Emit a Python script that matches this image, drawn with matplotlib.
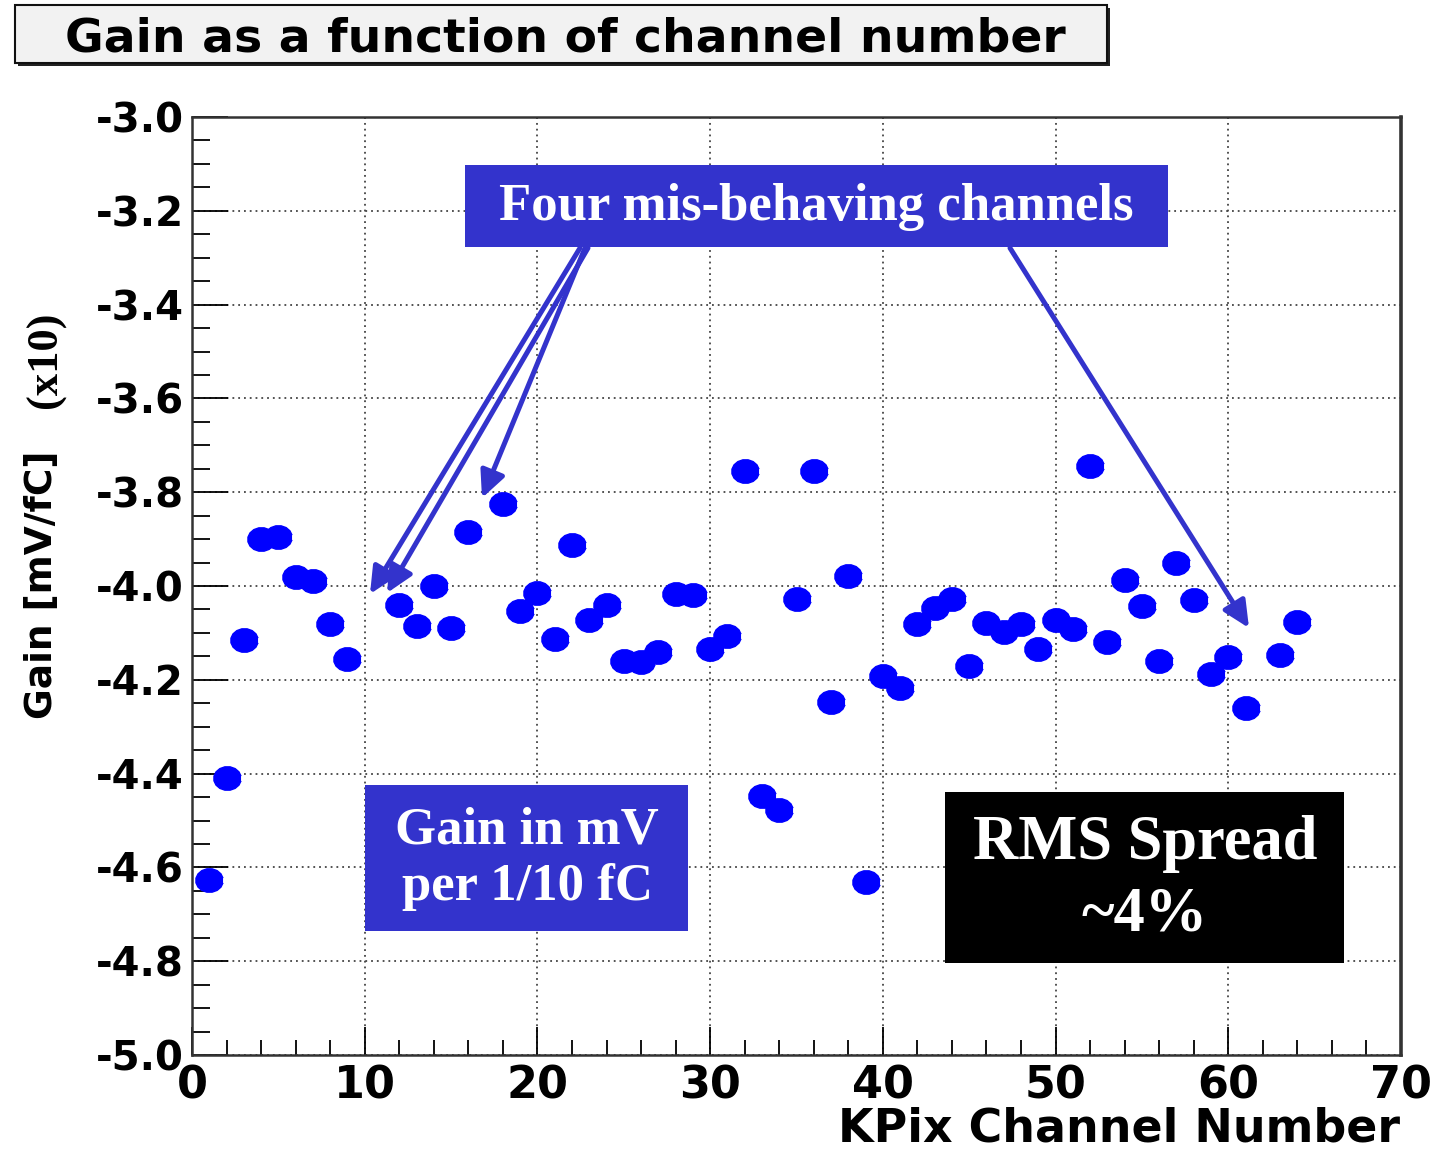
import numpy as np
import matplotlib
matplotlib.use('Agg')
import matplotlib.pyplot as plt
from matplotlib.patches import Rectangle, FancyArrowPatch
from matplotlib.ticker import MultipleLocator, FormatStrFormatter

plt.rcParams['font.family'] = ['DejaVu Sans']
plt.rcParams['axes.unicode_minus'] = False

# ---- data; NaN = mis-behaving channels ----
channels = np.arange(1, 65)
gain = [-4.627, -4.41, -4.115, -3.90, -3.895, -3.98, -3.99, -4.08, -4.155,
        np.nan, np.nan,
        -4.04, -4.085, -4.00, -4.09, -3.885,
        np.nan,
        -3.825, -4.053, -4.015, -4.113, -3.913, -4.073, -4.04, -4.16, -4.163,
        -4.14, -4.017, -4.02, -4.134, -4.107, -3.755, -4.448, -4.478, -4.028,
        -3.755, -4.247, -3.979, -4.631, -4.192, -4.217, -4.081, -4.047, -4.028,
        -4.171, -4.079, -4.098, -4.081, -4.134, -4.073, -4.092, -3.744, -4.119,
        -3.987, -4.042, -4.16, -3.951, -4.03, -4.188, -4.151, -4.26,
        np.nan,
        -4.147, -4.077]
gain = np.array(gain, dtype=float)

x_ticks = [0, 10, 20, 30, 40, 50, 60, 70]
y_ticks = [-5.0, -4.8, -4.6, -4.4, -4.2, -4.0, -3.8, -3.6, -3.4, -3.2, -3.0]

title = 'Gain as a function of channel number'
xlabel = 'KPix Channel Number'
ylabel = 'Gain [mV/fC]'
ylabel2 = '(x10)'
note_top = 'Four mis-behaving channels'
note_left = 'Gain in mV\nper 1/10 fC'
note_right = 'RMS Spread\n~4%'

# ---- figure geometry (image pixel helpers) ----
W, H = 1432, 1154
fig = plt.figure(figsize=(W / 100, H / 100), dpi=100)


def fx(x):
    return x / W


def fy(y):
    return 1 - y / H


ax = fig.add_axes([fx(192), fy(1055), fx(1401) - fx(192), fy(117) - fy(1055)])

BLUE = '#3333CC'

# slightly wide octagon-like marker
t = np.linspace(0, 2 * np.pi, 17)[:-1] + np.pi / 16
verts = np.column_stack([np.cos(t), 0.86 * np.sin(t)])
ax.plot(channels, gain, linestyle='none', marker=verts, markersize=19.5,
        color='#0000FF', mec='#0000FF', zorder=3)

ax.set_xlim(0, 70)
ax.set_ylim(-5.0, -3.0)
ax.set_xticks(x_ticks)
ax.set_yticks(y_ticks)
ax.xaxis.set_minor_locator(MultipleLocator(2))
ax.yaxis.set_minor_locator(MultipleLocator(0.05))
ax.yaxis.set_major_formatter(FormatStrFormatter('%.1f'))

ax.tick_params(axis='x', which='major', direction='in', length=20, width=1.3,
               labelsize=32, pad=7, top=False)
ax.tick_params(axis='x', which='minor', direction='in', length=11, width=1.3, top=False)
ax.tick_params(axis='y', which='major', direction='in', length=26, width=1.3,
               labelsize=29, pad=6, right=False)
ax.tick_params(axis='y', which='minor', direction='in', length=13, width=1.3, right=False)
for lbl in ax.get_xticklabels() + ax.get_yticklabels():
    lbl.set_fontweight('bold')

ax.grid(True, which='major', linestyle=(0, (1, 2.2)), color='#444444', lw=1.3)
ax.set_axisbelow(True)
for s in ax.spines.values():
    s.set_color('#333333')
    s.set_linewidth(1.8)
ax.spines['right'].set_linewidth(2.6)

# axis titles
fig.text(fx(1400), fy(1141), xlabel, ha='right', va='baseline', fontsize=33,
         fontweight='bold')
fig.text(fx(42), fy(585), ylabel, rotation=90, ha='center', va='center',
         fontsize=27, fontweight='bold')
fig.text(fx(46), fy(360), ylabel2, rotation=90, ha='center', va='center',
         fontsize=32, fontweight='bold', family='Liberation Serif')

# title box with shadow
fig.add_artist(Rectangle((fx(18), fy(66)), fx(1107) - fx(15), fy(5) - fy(63),
                         transform=fig.transFigure, fc='#222222', ec='none'))
fig.add_artist(Rectangle((fx(15), fy(63)), fx(1107) - fx(15), fy(5) - fy(63),
                         transform=fig.transFigure, fc='#F2F2F2', ec='#111111', lw=1.5))
fig.text(fx(565), fy(39), title, ha='center', va='center', fontsize=34,
         fontweight='bold')

# annotation boxes
fig.add_artist(Rectangle((fx(465), fy(247)), fx(1168) - fx(465), fy(165) - fy(247),
                         transform=fig.transFigure, fc=BLUE, ec='none'))
fig.text(fx(816), fy(207), note_top, ha='center', va='center', fontsize=38,
         fontweight='bold', family='Liberation Serif', color='white')

fig.add_artist(Rectangle((fx(365), fy(931)), fx(688) - fx(365), fy(785) - fy(931),
                         transform=fig.transFigure, fc=BLUE, ec='none'))
fig.text(fx(527), fy(859), note_left, ha='center', va='center', fontsize=38,
         fontweight='bold', family='Liberation Serif', color='white',
         linespacing=1.22)

fig.add_artist(Rectangle((fx(945), fy(963)), fx(1344) - fx(945), fy(792) - fy(963),
                         transform=fig.transFigure, fc='black', ec='none'))
fig.text(fx(1145), fy(880), note_right, ha='center', va='center', fontsize=45,
         fontweight='bold', family='Liberation Serif', color='white',
         linespacing=1.3)

# arrows from the top box
arrows = [((580, 248), (370, 594)),
          ((588, 248), (387, 593)),
          ((585, 248), (482, 498)),
          ((1010, 248), (1249, 628))]
for (x0, y0), (x1, y1) in arrows:
    fig.add_artist(FancyArrowPatch((fx(x0), fy(y0)), (fx(x1), fy(y1)),
                                   transform=fig.transFigure,
                                   arrowstyle='-|>,head_length=0.8,head_width=0.38',
                                   mutation_scale=20, lw=3.6, color=BLUE,
                                   shrinkA=0, shrinkB=0))

fig.savefig('out.png', dpi=100)
